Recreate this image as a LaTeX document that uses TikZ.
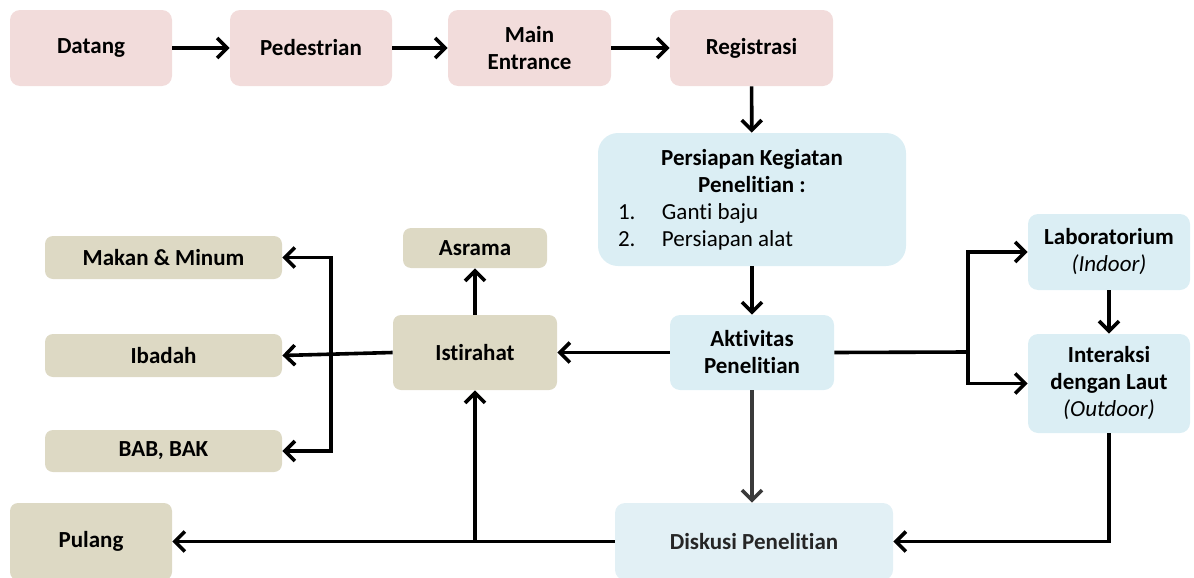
\documentclass[tikz,border=0pt]{standalone}
\usepackage{fontspec}
\setmainfont{Carlito}[Ligatures={NoCommon}]
\usetikzlibrary{arrows.meta}

\definecolor{pinkfill}{HTML}{F2DCDB}
\definecolor{bluefill}{HTML}{DBEEF4}
\definecolor{paleblue}{HTML}{E2F0F5}
\definecolor{tanfill}{HTML}{DDD9C4}
\definecolor{darkline}{HTML}{3A3A3A}

\tikzset{
  basebox/.style={rounded corners=5pt, inner sep=2pt, align=center,
    font=\fontsize{11.5}{13.5}\selectfont\bfseries, text=black},
  pinkbox/.style={basebox, fill=pinkfill},
  bluebox/.style={basebox, fill=bluefill},
  tanbox/.style={basebox, fill=tanfill, rounded corners=4pt},
  arr/.style={draw=black, line width=1.8pt, line join=miter,
    -{Straight Barb[length=5pt,width=10pt]}},
  plainline/.style={draw=black, line width=1.8pt, line join=miter},
}

% box given by its corners in pixel units: name, x1, y1, x2, y2, style, text
\newcommand\flowbox[7]{%
  \node[#6, minimum width={(#4-#2)*0.5pt}, minimum height={(#5-#3)*0.5pt}]
    (#1) at ({(#2+#4)/2},{(#3+#5)/2}) {#7};}

% one numbered line of the preparation list
\newcommand\listline[2]{\makebox[134pt][l]{\mdseries\makebox[22pt][l]{#1}#2}}

\begin{document}
\begin{tikzpicture}[x=0.5pt, y=-0.5pt]
  \useasboundingbox (0,0) rectangle (1194,578);
  \clip (0,0) rectangle (1194,578);

  % arrival row
  \flowbox{datang}{10}{10}{172}{86}{pinkbox}{Datang}
  \flowbox{pedestrian}{230}{10}{392}{86}{pinkbox}{Pedestrian}
  \flowbox{entrance}{448}{10}{611}{86}{pinkbox}{Main\\Entrance}
  \flowbox{registrasi}{670}{10}{833}{86}{pinkbox}{Registrasi}

  % preparation and research
  \flowbox{persiapan}{598}{133}{906}{266}{bluebox,rounded corners=10pt}
    {Persiapan Kegiatan\\Penelitian :\\
     \listline{1.}{Ganti baju}\\
     \listline{2.}{Persiapan alat}}
  \flowbox{aktivitas}{670}{315}{834}{390}{bluebox}{Aktivitas\\Penelitian}
  \flowbox{lab}{1028}{214}{1190}{290}{bluebox}{Laboratorium\\\mdseries\itshape (Indoor)}
  \flowbox{interaksi}{1028}{334}{1190}{433}{bluebox}{Interaksi\\dengan Laut\\\mdseries\itshape (Outdoor)}
  \flowbox{diskusi}{615}{503}{893}{580}{basebox,fill=paleblue,text=black!85}{Diskusi Penelitian}

  % rest
  \flowbox{istirahat}{393}{315}{557}{390}{tanbox}{Istirahat}
  \flowbox{asrama}{403}{228}{547}{268}{tanbox}{Asrama}
  \flowbox{makan}{45}{236}{282}{279}{tanbox}{Makan \& Minum}
  \flowbox{ibadah}{45}{334}{282}{377}{tanbox}{Ibadah}
  \flowbox{bab}{45}{430}{282}{472}{tanbox}{BAB, BAK}
  \flowbox{pulang}{10}{503}{172}{580}{tanbox}{Pulang}

  % branching points
  \coordinate (restsplit) at (331,352);
  \coordinate (fieldsplit) at (968,352);
  \coordinate (backjoin) at (475,541);

  % arrival flow
  \draw[arr] (datang) -- (pedestrian);
  \draw[arr] (pedestrian) -- (entrance);
  \draw[arr] (entrance) -- (registrasi);
  \draw[arr] (registrasi) -- (persiapan);
  \draw[arr] (persiapan) -- (aktivitas);

  % research branches
  \draw[plainline] (aktivitas.east) -- (fieldsplit);
  \draw[arr] (fieldsplit) |- (lab.west);
  \draw[arr] (fieldsplit) |- (interaksi.west);
  \draw[arr] (lab) -- (interaksi);
  \draw[arr] (interaksi.south) |- (diskusi.east);
  \draw[arr, draw=darkline] (aktivitas.south) -- (aktivitas.south |- diskusi.north);

  % rest branches
  \draw[arr] (aktivitas) -- (istirahat);
  \draw[arr] (istirahat) -- (asrama);
  \draw[arr] (istirahat.west) -- (ibadah.east);
  \draw[arr] (restsplit) |- (makan.east);
  \draw[arr] (restsplit) |- (bab.east);

  % departure
  \draw[arr] (diskusi.west) -- (pulang.east);
  \draw[arr] (backjoin) -- (istirahat.south);
\end{tikzpicture}
\end{document}
